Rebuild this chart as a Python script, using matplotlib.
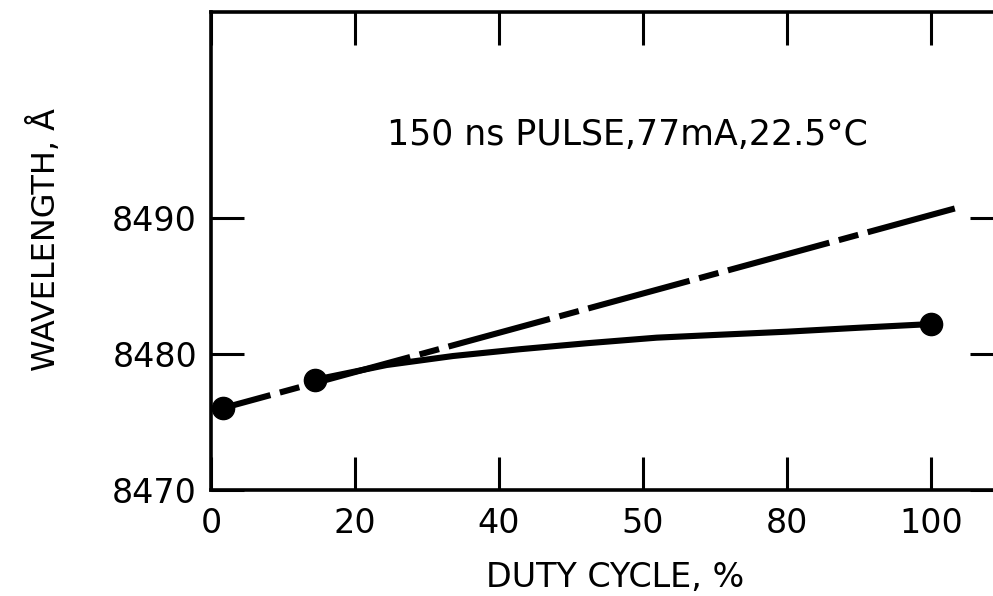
import numpy as np
import matplotlib
matplotlib.use('Agg')
import matplotlib.pyplot as plt

# measured points (duty cycle %, wavelength in angstrom)
duty_pts = [1.7, 14.4, 100]
wl_pts = [8476.03, 8478.1, 8482.2]

# solid curve through the measured points, from the 15% point onward
duty_curve = [14.4, 24.4, 33.6, 42.9, 52.2, 61.9, 70, 80, 90, 100]
wl_curve = [8478.1, 8479.19, 8479.85, 8480.35, 8480.79, 8481.2, 8481.4,
            8481.64, 8481.93, 8482.2]

# extrapolated straight line
duty_lin = [1.7, 103.3]
wl_lin = [8476.03, 8490.7]

x_ticks = [0, 20, 40, 60, 80, 100]
x_ticklabels = ['0', '20', '40', '50', '80', '100']
y_ticks = [8470, 8480, 8490]

fig = plt.figure(figsize=(9.93, 5.96), dpi=100)
ax = fig.add_axes([0.2125, 0.1779, 0.7976, 0.802])

lw = 4.4
ax.plot(duty_lin, wl_lin, color='k', lw=lw, solid_capstyle='round',
        linestyle=(9.2, (17.2, 1.6, 3.3, 1.6)))
ax.plot(duty_curve, wl_curve, color='k', lw=lw, solid_capstyle='round',
        solid_joinstyle='round')
ax.plot(duty_pts, wl_pts, 'o', color='k', ms=16, ls='none')

ax.set_xlim(0, 110)
ax.set_ylim(8470, 8505.15)

ax.set_xticks(x_ticks)
ax.set_xticklabels(x_ticklabels)
ax.set_yticks(y_ticks)
ax.tick_params(axis='both', direction='in', length=24, width=2.2,
               top=True, right=True, labelsize=24, pad=10)
ax.tick_params(axis='x', pad=12)
for s in ax.spines.values():
    s.set_linewidth(2.6)

ax.text(57.9, 8496.1, '150 ns PULSE,77mA,22.5°C', fontsize=25,
        ha='center', va='center')

ax.set_xlabel('DUTY CYCLE, %', fontsize=24, va='center')
ax.xaxis.set_label_coords(0.51, -0.184)
ax.set_ylabel('WAVELENGTH, Å', fontsize=23, va='center')
ax.yaxis.set_label_coords(-0.2096, 0.523)

fig.savefig('out.png', dpi=100)
